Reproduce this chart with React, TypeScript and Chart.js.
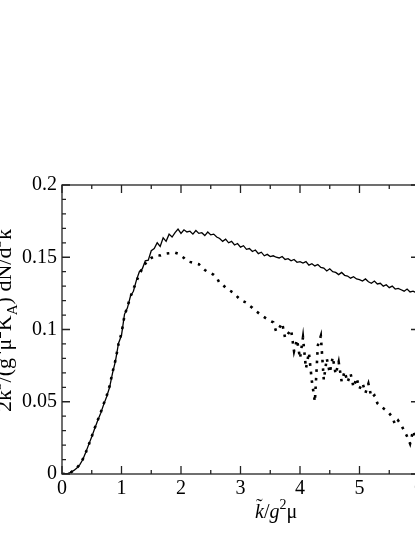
import React, { useEffect, useRef } from "react";
import { Chart, registerables } from "chart.js";

Chart.register(...registerables);

const K = [
  0, 0.05, 0.1, 0.15, 0.2, 0.25, 0.3, 0.35, 0.4, 0.45,
  0.5, 0.55, 0.6, 0.65, 0.7, 0.75, 0.8, 0.85, 0.9, 0.95,
  1, 1.05, 1.1, 1.15, 1.2, 1.25, 1.3, 1.35, 1.4, 1.45,
  1.5, 1.55, 1.6, 1.65, 1.7, 1.75, 1.8, 1.85, 1.9, 1.95,
  2, 2.05, 2.1, 2.15, 2.2, 2.25, 2.3, 2.35, 2.4, 2.45,
  2.5, 2.55, 2.6, 2.65, 2.7, 2.75, 2.8, 2.85, 2.9, 2.95,
  3, 3.05, 3.1, 3.15, 3.2, 3.25, 3.3, 3.35, 3.4, 3.45,
  3.5, 3.55, 3.6, 3.65, 3.7, 3.75, 3.8, 3.85, 3.9, 3.95,
  4, 4.05, 4.1, 4.15, 4.2, 4.25, 4.3, 4.35, 4.4, 4.45,
  4.5, 4.55, 4.6, 4.65, 4.7, 4.75, 4.8, 4.85, 4.9, 4.95,
  5, 5.05, 5.1, 5.15, 5.2, 5.25, 5.3, 5.35, 5.4, 5.45,
  5.5, 5.55, 5.6, 5.65, 5.7, 5.75, 5.8, 5.85, 5.9, 5.95,
  6,
];

const SOLID = [
  0.0, 0.0001, 0.0005, 0.0012, 0.0025, 0.0042, 0.0065, 0.01, 0.015, 0.0205,
  0.0258, 0.0315, 0.037, 0.042, 0.048, 0.0535, 0.06, 0.07, 0.0785, 0.0905,
  0.096, 0.1105, 0.115, 0.123, 0.1265, 0.134, 0.14, 0.142, 0.1475, 0.148,
  0.1545, 0.156, 0.16, 0.1575, 0.1635, 0.161, 0.166, 0.164, 0.167, 0.1695,
  0.1665, 0.169, 0.1675, 0.168, 0.166, 0.1685, 0.1665, 0.167, 0.165, 0.1675,
  0.1655, 0.166, 0.164, 0.163, 0.161, 0.1625, 0.16, 0.161, 0.1585, 0.1595,
  0.157, 0.158, 0.1555, 0.156, 0.154, 0.155, 0.1525, 0.1535, 0.151, 0.152,
  0.1505, 0.151, 0.15, 0.1495, 0.1505, 0.1485, 0.149, 0.1475, 0.1485, 0.1465,
  0.147, 0.146, 0.147, 0.1445, 0.1455, 0.144, 0.145, 0.143, 0.1425, 0.1405,
  0.142, 0.14, 0.1395, 0.138, 0.1395, 0.1375, 0.137, 0.1355, 0.1365, 0.135,
  0.1345, 0.1335, 0.135, 0.133, 0.132, 0.1335, 0.1315, 0.132, 0.13, 0.131,
  0.129, 0.13, 0.128, 0.1285, 0.1275, 0.1265, 0.128, 0.126, 0.1265, 0.1255,
  0.125,
];

const DOTTED = [
  0.0, 0.0001, 0.0005, 0.0012, 0.0025, 0.0043, 0.0066, 0.0102, 0.0148, 0.0203,
  0.026, 0.0318, 0.0372, 0.0425, 0.0485, 0.054, 0.061, 0.0705, 0.079, 0.09,
  0.0975, 0.1095, 0.116, 0.1225, 0.128, 0.133, 0.1385, 0.142, 0.1455, 0.148,
  0.1495, 0.1505, 0.1515, 0.1512, 0.152, 0.1525, 0.1528, 0.153, 0.1532, 0.1525,
  0.151, 0.1495, 0.1475, 0.1468, 0.1462, 0.1458, 0.1452, 0.143, 0.1412, 0.1398,
  0.139, 0.1378, 0.136, 0.132, 0.131, 0.129, 0.1275, 0.1262, 0.125, 0.1225,
  0.1205, 0.1195, 0.1185, 0.1165, 0.115, 0.113, 0.1115, 0.11, 0.1085, 0.1072,
  0.106, 0.105, 0.0985, 0.101, 0.1045, 0.094, 0.097, 0.1, 0.085, 0.093,
  0.08, 0.0945, 0.073, 0.084, 0.064, 0.05, 0.089, 0.0955, 0.065, 0.08,
  0.07, 0.081, 0.069, 0.0775, 0.064, 0.071, 0.0635, 0.0695, 0.06, 0.0665,
  0.059, 0.063, 0.056, 0.0625, 0.053, 0.0545, 0.049, 0.047, 0.0455, 0.044,
  0.042, 0.0395, 0.034, 0.037, 0.034, 0.03, 0.026, 0.021, 0.03, 0.024,
  0.02,
];

const X_MAJOR = [0, 1, 2, 3, 4, 5, 6];
const X_MINOR = [0.5, 1.5, 2.5, 3.5, 4.5, 5.5];
const Y_MAJOR = [0, 0.05, 0.1, 0.15, 0.2];
const Y_MINOR = [
  0.01, 0.02, 0.03, 0.04, 0.06, 0.07, 0.08, 0.09, 0.11, 0.12, 0.13, 0.14,
  0.16, 0.17, 0.18, 0.19,
];

const SERIF = '"Liberation Serif", "Times New Roman", serif';

type Seg = { t: string; it?: boolean; sup?: boolean; sub?: boolean };

const X_TITLE: Seg[] = [
  { t: "k", it: true },
  { t: "/" },
  { t: "g", it: true },
  { t: "2", sup: true },
  { t: "\u03bc" },
];

const Y_TITLE: Seg[] = [
  { t: "2k" },
  { t: "3", sup: true },
  { t: "/(g" },
  { t: "4", sup: true },
  { t: "\u03bc" },
  { t: "2", sup: true },
  { t: "K" },
  { t: "A", sub: true },
  { t: ") dN/d" },
  { t: "3", sup: true },
  { t: "k" },
];

function segFont(s: Seg, size: number) {
  const sz = s.sup || s.sub ? Math.round(size * 0.7) : size;
  return `${s.it ? "italic " : ""}${sz}px ${SERIF}`;
}

function richWidth(ctx: CanvasRenderingContext2D, segs: Seg[], size: number) {
  let w = 0;
  for (const s of segs) {
    ctx.font = segFont(s, size);
    w += ctx.measureText(s.t).width;
  }
  return w;
}

function drawRich(
  ctx: CanvasRenderingContext2D,
  segs: Seg[],
  size: number,
  x: number,
  y: number
) {
  let cx = x;
  const starts: number[] = [];
  for (const s of segs) {
    ctx.font = segFont(s, size);
    const dy = s.sup ? -size * 0.45 : s.sub ? size * 0.28 : 0;
    starts.push(cx);
    ctx.fillText(s.t, cx, y + dy);
    cx += ctx.measureText(s.t).width;
  }
  return starts;
}

const framePlugin = {
  id: "frameTicks",
  afterDraw(chart: any) {
    const { ctx, chartArea: a, scales } = chart;
    const xs = scales.x;
    const ys = scales.y;
    ctx.save();
    ctx.strokeStyle = "#222";
    ctx.lineWidth = 1.3;
    ctx.strokeRect(a.left, a.top, a.right - a.left, a.bottom - a.top);
    const MAJ = 8;
    const MIN = 4;
    ctx.beginPath();
    const xt = (vals: number[], len: number) => {
      for (const v of vals) {
        const px = xs.getPixelForValue(v);
        ctx.moveTo(px, a.bottom);
        ctx.lineTo(px, a.bottom - len);
        ctx.moveTo(px, a.top);
        ctx.lineTo(px, a.top + len);
      }
    };
    const yt = (vals: number[], len: number) => {
      for (const v of vals) {
        const py = ys.getPixelForValue(v);
        ctx.moveTo(a.left, py);
        ctx.lineTo(a.left + len, py);
        ctx.moveTo(a.right, py);
        ctx.lineTo(a.right - len, py);
      }
    };
    xt(X_MAJOR, MAJ);
    xt(X_MINOR, MIN);
    yt(Y_MAJOR, MAJ);
    yt(Y_MINOR, MIN);
    ctx.stroke();

    // x-axis title
    ctx.fillStyle = "#000";
    ctx.textBaseline = "alphabetic";
    ctx.textAlign = "left";
    const size = 20;
    const tx = 255;
    const ty = 518;
    const starts = drawRich(ctx, X_TITLE, size, tx, ty);
    ctx.font = `${size}px ${SERIF}`;
    ctx.fillText("\u02dc", starts[0] + 1, ty - 5);

    // y-axis title (rotated, partly outside the visible page on the left)
    const ysize = 22;
    const yw = richWidth(ctx, Y_TITLE, ysize);
    const cy = (a.top + a.bottom) / 2 - 9;
    ctx.save();
    ctx.translate(10.5, cy);
    ctx.rotate(-Math.PI / 2);
    drawRich(ctx, Y_TITLE, ysize, -yw / 2, 0);
    ctx.restore();

    ctx.restore();
  },
};

export default function App() {
  const ref = useRef<HTMLCanvasElement | null>(null);

  useEffect(() => {
    if (!ref.current) return;
    const chart = new Chart(ref.current, {
      type: "line",
      data: {
        datasets: [
          {
            label: "solid",
            data: K.map((k, i) => ({ x: k, y: SOLID[i] })),
            borderColor: "#000",
            borderWidth: 1.3,
            pointRadius: 0,
            tension: 0,
            fill: false,
          },
          {
            label: "dotted",
            data: K.map((k, i) => ({ x: k, y: DOTTED[i] })),
            borderColor: "#000",
            borderWidth: 2.6,
            borderDash: [2.6, 6],
            pointRadius: 0,
            tension: 0,
            fill: false,
          },
        ],
      },
      options: {
        animation: false,
        responsive: false,
        devicePixelRatio: 1,
        layout: { padding: { left: 0, right: 21, top: 185, bottom: 0 } },
        plugins: {
          legend: { display: false },
          tooltip: { enabled: false },
        },
        scales: {
          x: {
            type: "linear",
            min: 0,
            max: 6,
            grid: { display: false, drawTicks: false },
            border: { display: false },
            afterFit: (s: any) => {
              s.height = 63;
            },
            ticks: {
              stepSize: 1,
              padding: 3,
              color: "#000",
              font: { family: SERIF, size: 20 },
              maxRotation: 0,
              callback: (v: any) => String(v),
            },
          },
          y: {
            type: "linear",
            min: 0,
            max: 0.2,
            grid: { display: false, drawTicks: false },
            border: { display: false },
            afterFit: (s: any) => {
              s.width = 62;
            },
            ticks: {
              stepSize: 0.05,
              padding: 5,
              color: "#000",
              font: { family: SERIF, size: 20 },
              callback: (v: any) => String(parseFloat(Number(v).toFixed(2))),
            },
          },
        },
      },
      plugins: [framePlugin],
    });
    return () => chart.destroy();
  }, []);

  return (
    <div
      style={{
        position: "fixed",
        left: 0,
        top: 0,
        width: 415,
        height: 537,
        overflow: "hidden",
        background: "#fff",
      }}
    >
      <canvas
        ref={ref}
        width={440}
        height={537}
        style={{ display: "block", width: 440, height: 537 }}
      />
    </div>
  );
}
